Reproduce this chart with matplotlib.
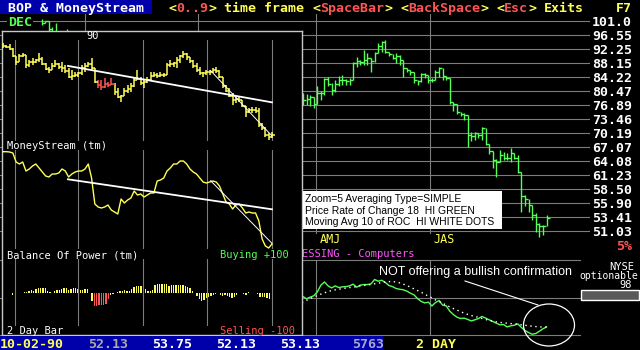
import numpy as np
import matplotlib
matplotlib.use("Agg")
import matplotlib.pyplot as plt
import matplotlib.transforms as mtransforms
from matplotlib.patches import Rectangle, Ellipse

W, H = 640, 350
YEL = '#ffff55'; RED = '#ff5555'; GRN = '#55ff55'; WHT = '#ffffff'
MAG = '#ff55ff'; GRY = '#7c7c7c'; BLU = '#0000aa'; LGR = '#aaaaaa'
MONO = 'DejaVu Sans Mono'
BIG = 9.57      # 8 px per character
SMALL = 7.5

# ---- main chart, 2 day bars (bar number on x) ----
early_idx = [1, 2, 3, 4, 5, 6, 7, 8]
early_hi = [101.6, 101.0, 101.0, 99.0, 100.4, 97.8, 97.4, 98.3]
early_lo = [99.6, 100.2, 97.2, 96.8, 96.5, 95.6, 95.0, 95.4]
early_cl = [100.4, 101.0, 98.4, 97.6, 97.4, 96.5, 96.0, 97.0]

bar_idx = list(range(74, 143))
bar_hi = [79.9, 79.7, 79.4, 78.4, 81.8, 80.5, 83.9, 84.2, 82.6, 83.4,
          84.5, 84.8, 83.6, 83.9, 88.4, 89.9, 89.0, 92.0, 91.1, 89.0,
          91.4, 94.1, 94.7, 95.0, 91.4, 90.5, 91.1, 90.5, 87.6, 86.7,
          86.2, 85.6, 83.4, 85.3, 85.3, 84.8, 83.9, 86.2, 87.0, 85.6,
          84.5, 83.4, 77.4, 76.9, 75.1, 74.9, 73.7, 70.4, 70.4, 70.2,
          71.6, 68.0, 66.6, 65.7, 64.5, 66.4, 66.0, 65.7, 66.8, 65.7,
          65.3, 60.8, 57.4, 56.4, 54.1, 54.1, 52.4, 52.0, 53.8]
bar_lo = [76.9, 76.9, 76.6, 76.1, 78.1, 78.1, 79.4, 81.8, 79.4, 80.2,
          81.8, 82.1, 82.1, 82.1, 83.6, 87.0, 87.6, 87.6, 87.6, 85.6,
          88.4, 91.1, 91.4, 91.1, 90.2, 89.3, 88.2, 87.6, 84.2, 85.6,
          84.8, 82.6, 82.0, 82.9, 83.9, 82.6, 82.9, 83.9, 84.2, 83.4,
          83.4, 77.1, 75.4, 74.6, 74.2, 73.2, 67.1, 68.4, 68.6, 69.0,
          68.6, 67.5, 65.6, 62.6, 60.8, 64.3, 64.3, 64.3, 63.9, 64.5,
          61.6, 54.2, 55.4, 54.2, 52.9, 50.9, 50.0, 50.4, 52.0]
bar_cl = [78.1, 78.4, 79.0, 77.1, 80.0, 80.0, 83.6, 82.3, 80.7, 82.3,
          83.4, 83.4, 83.1, 83.4, 88.2, 88.7, 88.4, 89.0, 89.6, 88.7,
          91.1, 93.2, 94.4, 91.4, 90.8, 89.6, 90.2, 89.0, 86.7, 86.2,
          85.6, 83.4, 83.1, 85.1, 84.8, 83.4, 83.4, 85.6, 86.7, 84.5,
          83.9, 77.6, 77.1, 75.1, 74.6, 74.4, 69.7, 69.5, 70.2, 69.7,
          71.4, 67.7, 66.1, 64.3, 63.9, 65.3, 64.7, 64.7, 65.7, 64.7,
          61.8, 57.2, 56.6, 55.5, 53.8, 52.2, 51.8, 51.8, 53.2]
quarter_idx = [13.1, 44.7, 77.6, 109.5]
price_levels = [101.0, 96.55, 92.25, 88.15, 84.22, 80.47, 76.89, 73.46,
                70.19, 67.07, 64.08, 61.23, 58.50, 55.90, 53.41, 51.03]
price_labels = ['101.0', '96.55', '92.25', '88.15', '84.22', '80.47', '76.89', '73.46',
                '70.19', '67.07', '64.08', '61.23', '58.50', '55.90', '53.41', '51.03']

# price rate of change 18 and its 10 bar average
roc_idx = list(range(71, 143))
roc = [1.6, 1.4, 1.2, 0.5, -0.7, 0.2, 0.9, 3.0, 6.6, 8.3,
       6.2, 5.1, 6.2, 5.3, 5.7, 5.8, 6.2, 7.1, 5.5, 6.6,
       6.9, 6.9, 7.3, 9.6, 8.7, 9.2, 8.0, 6.4, 5.8, 4.8,
       4.4, 4.1, 3.4, 2.3, 1.4, -0.6, -2.1, -2.9, -2.5, -4.5,
       -2.7, -1.6, -4.1, -4.5, -7.3, -9.1, -10.5, -11.2, -11.0, -11.7,
       -12.5, -11.9, -11.2, -10.1, -11.0, -11.9, -12.8, -13.7, -14.6, -14.4,
       -15.7, -15.1, -14.8, -14.1, -16.0, -17.6, -18.7, -19.6, -19.2, -18.0,
       -16.7, -15.7]
roc_ma = [-4.1, -3.6, -3.1, -2.4, -1.5, -0.6, 0.3, 1.0, 1.8, 2.5,
          3.2, 3.7, 4.1, 4.4, 4.8, 5.0, 5.3, 5.5, 5.8, 6.2,
          6.4, 6.7, 6.9, 7.3, 7.6, 8.0, 8.3, 8.5, 8.5, 8.3,
          7.8, 7.1, 6.4, 5.5, 4.6, 3.7, 2.8, 1.8, 0.7, -0.2,
          -1.3, -2.1, -3.0, -4.1, -5.0, -5.9, -6.7, -7.6, -8.3, -9.0,
          -9.6, -10.1, -10.6, -11.2, -11.7, -12.3, -12.6, -13.0, -13.3, -13.5,
          -13.7, -13.9, -14.0, -14.2, -14.6, -14.8, -15.1, -15.3, -15.5, -15.7,
          -15.7, -15.7]

# ---- zoom window (daily) ----
ov_hi = [98.4, 97.4, 97.9, 96.0, 91.6, 93.0, 93.5, 91.1, 90.1, 91.1,
         90.6, 93.5, 91.6, 88.6, 86.7, 88.6, 90.1, 88.6, 89.1, 87.6,
         86.2, 85.2, 84.2, 84.2, 87.6, 88.6, 89.1, 91.1, 86.2, 80.3,
         80.3, 81.3, 79.3, 81.3, 78.9, 76.4, 73.0, 76.4, 77.9, 78.9,
         81.8, 85.2, 81.8, 80.3, 81.8, 84.2, 84.2, 83.7, 84.2, 83.7,
         88.6, 90.1, 89.1, 91.6, 92.5, 94.5, 93.5, 91.1, 90.1, 88.6,
         86.7, 84.2, 85.2, 85.2, 86.2, 86.7, 85.2, 81.8, 77.9, 76.4,
         74.0, 72.0, 72.0, 69.6, 67.1, 66.6, 67.1, 67.1, 66.6, 59.3,
         57.4, 54.4, 54.9]
ov_lo = [96.0, 96.0, 95.0, 91.6, 87.6, 90.1, 91.6, 86.2, 86.7, 87.6,
         88.6, 89.1, 87.6, 85.2, 83.7, 85.2, 86.7, 85.7, 84.2, 83.7,
         81.3, 80.3, 81.8, 81.8, 82.8, 84.2, 86.7, 85.2, 78.9, 76.4,
         75.4, 76.4, 76.9, 77.9, 73.0, 71.5, 69.6, 73.0, 74.0, 74.5,
         76.9, 80.3, 77.9, 76.4, 78.9, 80.3, 81.8, 81.3, 81.8, 81.8,
         83.7, 86.7, 86.7, 86.2, 88.6, 91.1, 90.1, 88.6, 86.2, 84.2,
         82.8, 81.8, 82.8, 82.8, 83.7, 83.7, 81.3, 76.4, 74.5, 72.0,
         68.1, 69.1, 69.6, 67.1, 62.2, 64.2, 64.2, 64.2, 57.4, 55.9,
         52.5, 51.0, 52.0]
ov_cl = [97.0, 96.5, 95.5, 92.0, 89.0, 92.0, 92.5, 87.5, 89.0, 89.0,
         90.0, 90.5, 88.0, 85.5, 85.0, 87.0, 88.0, 86.5, 86.0, 84.5,
         82.0, 82.5, 83.0, 83.5, 86.0, 87.0, 88.0, 86.0, 79.5, 78.0,
         77.0, 78.5, 78.0, 78.5, 74.5, 72.0, 72.5, 75.0, 76.0, 77.5,
         80.5, 81.0, 79.0, 79.5, 80.5, 82.5, 83.0, 82.5, 83.0, 83.0,
         87.5, 88.0, 88.5, 90.0, 92.0, 93.0, 91.5, 89.5, 87.0, 85.0,
         83.5, 83.5, 84.0, 84.0, 85.0, 84.5, 82.0, 77.5, 75.0, 72.5,
         70.5, 71.0, 70.5, 67.5, 64.5, 65.5, 65.5, 65.0, 58.5, 57.0,
         53.5, 52.5, 53.5]
ov_red = range(29, 34)
ms = [98.3, 98.3, 98, 97, 88, 86, 88, 79, 81, 84,
      86, 82, 78, 74, 73, 76, 76, 77, 81, 79,
      73, 76, 78, 79, 79, 81, 86, 72, 46, 43,
      42, 43, 45, 40, 38, 36, 51, 47, 50, 52,
      59, 55, 56, 53, 55, 57, 57, 69, 70, 72,
      79, 82, 86, 86, 89, 89, 86, 81, 78, 76,
      72, 68, 67, 68, 69, 68, 64, 56, 48, 46,
      41, 45, 46, 42, 37, 38, 37, 37, 29, 11,
      4, 2, 6]
bop = [1.8, 1.8, 1.8, 1.8, -3.5, 1.8, 1.8, 1.8, 1.8, 3.5,
       3.5, 5.3, 9.6, 7.0, 12.3, 14.0, 14.0, 14.0, 14.0, 7.0,
       3.5, 1.8, 5.3, 7.9, 9.6, 12.3, 14.0, 14.0, 7.9, 11.4,
       14.0, 14.0, 10.5, 7.9, 8.8, 10.5, 10.5, 0.9, -19.3, -32.5,
       -32.5, -31.6, -31.6, -29.8, -28.1, -14.0, -3.5, -1.8, 1.8, 2.6,
       5.3, 7.0, 8.8, 7.0, 5.3, 10.5, 15.8, 18.4, 19.3, 19.3,
       15.8, 12.3, 7.0, 7.0, 8.8, 21.1, 24.6, 25.4, 25.4, 25.4,
       24.6, 19.3, 21.1, 21.1, 21.1, 21.1, 22.8, 21.1, 18.4, 15.8,
       14.0, 7.0, 1.8, -7.0, -14.0, -21.1, -16.7, -12.3, -8.8, -7.0,
       -3.5, -1.8, 0.9, -3.5, -7.0, -5.3, -7.9, -8.8, -12.3, -8.8,
       -3.5, 1.8, 0.9, -1.8, -3.5, 3.5, 1.8, 0.9, 1.8, -1.8,
       -8.8, -10.5, -10.5, -12.3, -14.0]
bop_red = range(39, 46)
ov_quarters = [3.66, 22.87, 42.68, 62.2, 82.0]
price_trend = ([19.8, 82.0], [87.2, 69.4])
price_trend2 = ([63.3, 82.0], [84.9, 53.0])
ms_trend = ([19.8, 82.0], [70.7, 40.7])
ms_trend2 = ([63.3, 82.0], [69.3, 6.7])

fig = plt.figure(figsize=(6.4, 3.5), dpi=100, facecolor='black')


def px_axes(x0, y0, x1, y1, z):
    a = fig.add_axes([x0 / W, 1 - y1 / H, (x1 - x0) / W, (y1 - y0) / H], zorder=z)
    a.patch.set_alpha(0)
    return a


def step_bars(a, idx, hi, lo, cl, colors, tick, lw):
    # bars joined to the previous close so they read as one stepped line
    xi = np.array(idx, dtype=float)
    hi, lo, cl = np.array(hi), np.array(lo), np.array(cl)
    prev = np.concatenate([[cl[0]], cl[:-1]])
    a.vlines(xi, np.minimum(lo, prev), np.maximum(hi, prev), colors=colors, lw=lw, clip_on=False)
    a.hlines(cl, xi, xi + tick, colors=colors, lw=lw, clip_on=False)


# main price chart (log scale, rows 14 px apart)
ax = px_axes(0, 14, 590, 245, 1)
ax.set_yscale('log')
k = np.log(price_levels[0] / price_levels[-1]) / 210.0
ax.set_ylim(price_levels[-1] * np.exp(-14 * k), price_levels[0] * np.exp(7 * k))
ax.set_xlim(-38 / 3.581, 552 / 3.581)
ax.axis('off')
for lv in price_levels:
    ax.axhline(lv, color=GRY, lw=0.8)
for q in quarter_idx:
    ax.axvline(q, ymin=12 / 231, ymax=1, color=GRY, lw=0.8)
step_bars(ax, early_idx, early_hi, early_lo, early_cl, GRN, 0.95, 1.0)
step_bars(ax, bar_idx, bar_hi, bar_lo, bar_cl, GRN, 0.95, 1.0)
tr = mtransforms.blended_transform_factory(fig.transFigure, ax.transData)
for lv, lab in zip(price_levels, price_labels):
    ax.text(632 / W, lv, lab, transform=tr, ha='right', va='center_baseline', color=WHT,
            fontsize=BIG, fontweight='bold', family=MONO)

# rate of change panel
ar = px_axes(0, 260, 590, 335, 1)
ar.set_xlim(ax.get_xlim())
ar.set_ylim(-20, 20)
ar.axis('off')
for yv in [20, 0, -20]:
    ar.axhline(yv, xmax=580 / 590, color=GRY, lw=0.8, clip_on=False)
for q in quarter_idx:
    ar.axvline(q, color=GRY, lw=0.8)
ar.plot(roc_idx, roc, color=GRN, lw=1.0, clip_on=False)
ar.plot(roc_idx, roc_ma, color=WHT, lw=1.0, ls=(0, (1, 2.6)), clip_on=False)

# zoom window frame
fr = px_axes(2, 31, 302, 335, 3)
fr.patch.set_alpha(1)
fr.set_facecolor('black')
fr.set_xticks([]); fr.set_yticks([])
for s in fr.spines.values():
    s.set_color('#c8c8c8'); s.set_linewidth(1.0)

ov_x = np.arange(len(ov_hi))
ov_xlim = ((2 - 3) / 3.28, (302 - 3) / 3.28)

ap = px_axes(2, 40, 302, 141, 4)
ap.set_xlim(ov_xlim); ap.set_ylim(119.4 - 0.4885 * 141, 119.4 - 0.4885 * 40)
ap.axis('off')
for q in ov_quarters:
    ap.axvline(q, color=GRY, lw=0.8)
cols = [RED if i in ov_red else YEL for i in ov_x]
step_bars(ap, ov_x, ov_hi, ov_lo, ov_cl, cols, 1.0, 1.1)
ap.plot(*price_trend, color=WHT, lw=1.3)
ap.plot(*price_trend2, color=WHT, lw=0.7)

am = px_axes(2, 150, 302, 249, 4)
am.set_xlim(ov_xlim); am.set_ylim(1, 100)
am.axis('off')
for q in ov_quarters:
    am.axvline(q, color=GRY, lw=0.8)
am.plot(ov_x, ms, color=YEL, lw=1.0, clip_on=False)
am.plot(*ms_trend, color=WHT, lw=1.3)
am.plot(*ms_trend2, color=WHT, lw=0.7)

ab = px_axes(2, 259, 302, 326, 4)
ab.set_xlim((2 - 3.33) / 2.333, (302 - 3.33) / 2.333)
ab.set_ylim(-86.3, 90.3)
ab.axis('off')
for q in ov_quarters:
    ab.axvline((3 + 3.28 * q - 3.33) / 2.333, color=GRY, lw=0.8)
bx = np.arange(len(bop))
ab.bar(bx, bop, width=0.55, color=[RED if i in bop_red else YEL for i in bx], linewidth=0)

# text layer in screen pixels
d = fig.add_axes([0, 0, 1, 1], zorder=6)
d.patch.set_alpha(0)
d.set_xlim(0, W); d.set_ylim(H, 0)
d.axis('off')


def put(x, y, s, color, size=BIG, weight='bold', ha='left', family=MONO, **kw):
    d.text(x, y, s, color=color, fontsize=size, fontweight=weight, family=family,
           ha=ha, va='center_baseline', **kw)


d.add_patch(Rectangle((0, 0), 152, 14, facecolor=BLU, edgecolor='none'))
put(8, 7, 'BOP & MoneyStream', WHT)
for col, s, c in [(21, '<', YEL), (22, '0..9', RED), (26, '>', YEL), (28, 'time frame', YEL),
                  (39, '<', YEL), (40, 'SpaceBar', RED), (48, '>', YEL),
                  (50, '<', YEL), (51, 'BackSpace', RED), (60, '>', YEL),
                  (62, '<', YEL), (63, 'Esc', RED), (66, '>', YEL),
                  (68, 'Exits', YEL), (77, 'F7', YEL)]:
    put(8 * col, 7, s, c)
put(8, 21, 'DEC', GRN, bbox=dict(facecolor='black', edgecolor='none', pad=0.6))
put(616, 245, '5%', RED)
put(320, 238, 'AMJ', YEL, size=8.5, weight='normal')
put(433, 238, 'JAS', YEL, size=8.5, weight='normal')
put(302, 253, 'ESSING - Computers', MAG, size=SMALL, weight='normal')

# zoom window labels
put(86, 35, '90', WHT, size=SMALL, weight='normal')
put(7, 145, 'MoneyStream (tm)', WHT, size=SMALL, weight='normal')
put(7, 254, 'Balance Of Power (tm)', WHT, size=SMALL, weight='normal')
put(220, 254, 'Buying +100', GRN, size=SMALL, weight='normal')
put(7, 330, '2 Day Bar', WHT, size=SMALL, weight='normal')
put(220, 330, 'Selling -100', RED, size=SMALL, weight='normal')

# settings box
d.add_patch(Rectangle((303, 191), 199, 38, facecolor='white', edgecolor='none'))
for yy, s in [(198.5, 'Zoom=5 Averaging Type=SIMPLE'),
              (209.5, 'Price Rate of Change 18  HI GREEN'),
              (221, 'Moving Avg 10 of ROC  HI WHITE DOTS')]:
    put(305, yy, s, 'black', size=7.5, weight='normal', family='Liberation Sans')

# comment and circle
put(379, 270, 'NOT offering a bullish confirmation', WHT, size=9, weight='normal',
    family='Liberation Sans')
d.plot([465, 538], [281, 305], color=WHT, lw=0.8)
d.add_patch(Ellipse((549, 325), 51, 42, fill=False, edgecolor=WHT, lw=0.9))

# exchange box
put(622, 266, 'NYSE', WHT, size=SMALL, weight='normal', ha='center')
put(638, 275, 'optionable', WHT, size=7.0, weight='normal', ha='right')
put(626, 284, '98', WHT, size=SMALL, weight='normal', ha='center')
d.add_patch(Rectangle((581, 290), 58, 10, facecolor='#5a5a5a', edgecolor=WHT, lw=1))

# status line
d.add_patch(Rectangle((0, 336), 383, 14, facecolor=BLU, edgecolor='none'))
for col, s, c in [(0, '10-02-90', YEL), (11, '52.13', LGR), (19, '53.75', WHT),
                  (27, '52.13', WHT), (35, '53.13', WHT), (44, '5763', '#a8a8d8'),
                  (52, '2 DAY', YEL)]:
    put(8 * col, 343, s, c)

fig.savefig('out.png', dpi=100, facecolor='black')
